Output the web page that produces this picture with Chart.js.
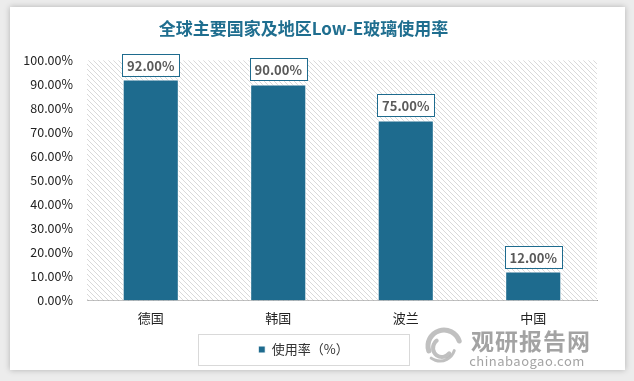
<!DOCTYPE html>
<html>
<head>
<meta charset="UTF-8">
<script src="https://cdn.jsdelivr.net/npm/chart.js"></script>
<style>
    body { margin: 0; background: #ececec; width: 634px; height: 381px; overflow: hidden; font-family: "Noto Sans CJK SC", sans-serif; }
    #card { position: absolute; left: 10px; top: 7px; width: 615px; height: 363px; background: #fff; box-shadow: 0 0 6px rgba(0,0,0,0.25); }
    #wm { position: absolute; left: 463px; top: 326px; color: rgba(140,140,140,0.8); text-align: center; }
    #wm .big { font-size: 23px; font-weight: bold; letter-spacing: 1px; line-height: 28px; padding-left: 8px; }
    #wm .small { font-size: 13px; line-height: 14px; letter-spacing: 0.5px; }
    #logo { position: absolute; left: 418px; top: 326px; }
</style>
</head>
<body>
<div id="card"><canvas id="chart" width="615" height="363"></canvas></div>
<canvas id="logo" width="48" height="40"></canvas>
<div id="wm"><div class="big">观研报告网</div><div class="small">chinabaogao.com</div></div>

<script>
    const categories = ['德国', '韩国', '波兰', '中国'];
    const usage = [92, 90, 75, 12];
    const seriesName = '使用率（%）';

    const teal = '#1e6b8e';

    // rough grey swirl next to the watermark
    (function () {
        const g = document.getElementById('logo').getContext('2d');
        g.strokeStyle = 'rgba(150,150,150,0.6)';
        g.lineCap = 'round';
        g.lineWidth = 5;
        g.beginPath(); g.arc(26, 20, 16, Math.PI * 0.9, Math.PI * 1.9); g.stroke();
        g.lineWidth = 4;
        g.beginPath(); g.arc(24, 22, 9, Math.PI * 0.2, Math.PI * 1.3); g.stroke();
        g.lineWidth = 3;
        g.beginPath(); g.arc(22, 20, 15, Math.PI * 0.1, Math.PI * 0.7); g.stroke();
    })();

    // diagonal hatch for the plot background
    function hatch() {
        const c = document.createElement('canvas');
        c.width = 5; c.height = 5;
        const g = c.getContext('2d');
        g.fillStyle = '#fff';
        g.fillRect(0, 0, 5, 5);
        g.strokeStyle = '#d9d9d9';
        g.lineWidth = 1;
        g.beginPath();
        g.moveTo(-1, -1); g.lineTo(6, 6);
        g.moveTo(-1, 4); g.lineTo(1, 6);
        g.moveTo(4, -1); g.lineTo(6, 1);
        g.stroke();
        return g.createPattern(c, 'repeat');
    }

    const plotBg = {
        id: 'plotBg',
        beforeDatasetsDraw(chart) {
            const a = chart.chartArea, ctx = chart.ctx;
            ctx.save();
            ctx.fillStyle = hatch();
            ctx.fillRect(a.left, a.top, a.right - a.left, a.bottom - a.top);
            ctx.restore();
        }
    };

    const labels = {
        id: 'labels',
        afterDatasetsDraw(chart) {
            const ctx = chart.ctx;
            ctx.save();
            ctx.font = 'bold 13px "Noto Sans CJK SC"';
            ctx.textAlign = 'center';
            ctx.textBaseline = 'middle';
            chart.getDatasetMeta(0).data.forEach((bar, i) => {
                const txt = usage[i].toFixed(2) + '%';
                const w = ctx.measureText(txt).width + 10;
                const h = 22;
                const x = bar.x, y = bar.y - 4 - h / 2;
                ctx.fillStyle = '#fff';
                ctx.fillRect(x - w / 2, y - h / 2, w, h);
                ctx.strokeStyle = teal;
                ctx.lineWidth = 1;
                ctx.strokeRect(Math.round(x - w / 2) + 0.5, Math.round(y - h / 2) + 0.5, Math.round(w), h);
                ctx.fillStyle = '#595959';
                ctx.fillText(txt, x, y + 1);
            });
            // frame round the legend
            const lg = chart.legend;
            const cx = (lg.left + lg.right) / 2;
            ctx.strokeStyle = '#d9d9d9';
            ctx.strokeRect(Math.round(cx - 106) + 0.5, lg.top + 0.5, 211, lg.height - 1);
            ctx.restore();
        }
    };

    new Chart(document.getElementById('chart'), {
        type: 'bar',
        data: {
            labels: categories,
            datasets: [{
                label: seriesName,
                data: usage,
                backgroundColor: teal,
                borderColor: '#fff',
                borderWidth: 1,
                categoryPercentage: 1,
                barPercentage: 0.44
            }]
        },
        options: {
            responsive: false,
            animation: false,
            layout: { padding: { left: 0, right: 28, top: 0, bottom: 4 } },
            plugins: {
                title: {
                    display: true,
                    text: '全球主要国家及地区Low-E玻璃使用率',
                    color: '#1f6e8f',
                    font: { family: 'Noto Sans CJK SC', size: 17, weight: 'bold' },
                    padding: { top: 11, bottom: 22 }
                },
                legend: {
                    position: 'bottom',
                    labels: {
                        color: '#333',
                        font: { family: 'Noto Sans CJK SC', size: 13 },
                        boxWidth: 7, boxHeight: 7,
                        padding: 9
                    }
                },
                tooltip: { enabled: false }
            },
            scales: {
                x: {
                    afterFit(s) { s.height += 6; },
                    grid: { display: false },
                    border: { color: '#999', width: 1 },
                    ticks: { color: '#222', font: { family: 'Noto Sans CJK SC', size: 13 }, padding: 2 }
                },
                y: {
                    min: 0, max: 100,
                    afterFit(s) { s.width = 77; },
                    grid: { display: false, drawTicks: false },
                    border: { display: false },
                    ticks: {
                        stepSize: 10,
                        padding: 14,
                        color: '#222',
                        font: { family: 'Noto Sans CJK SC', size: 12.5 },
                        callback: v => v.toFixed(2) + '%'
                    }
                }
            }
        },
        plugins: [plotBg, labels]
    });
</script>
</body>
</html>
